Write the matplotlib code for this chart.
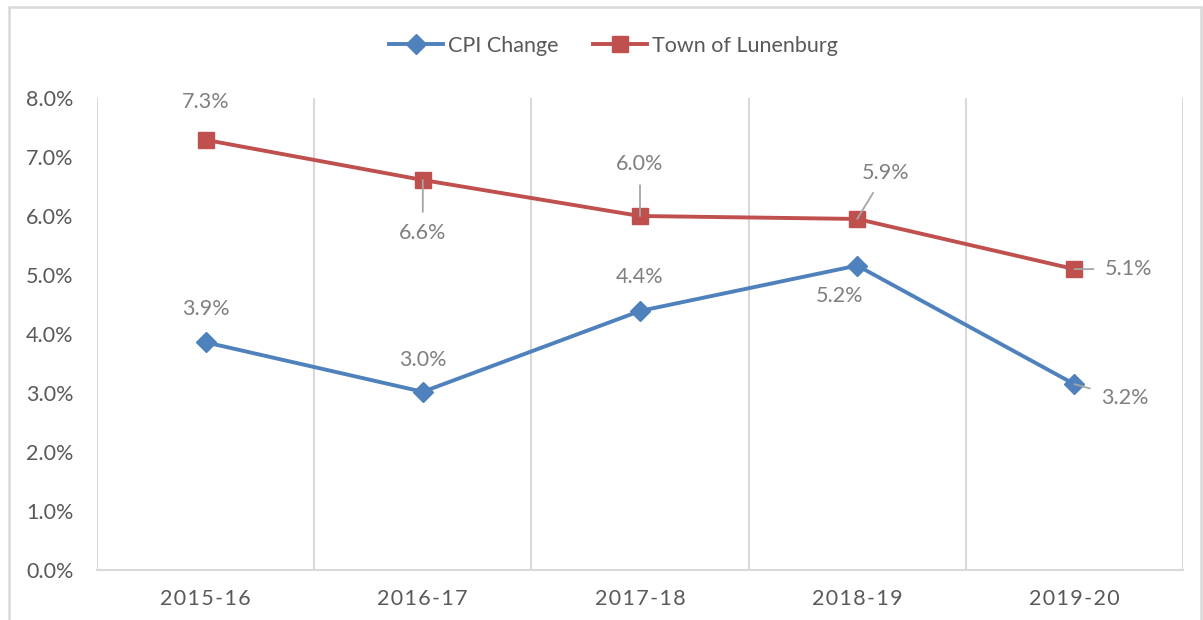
import numpy as np
import matplotlib; matplotlib.use("Agg")
import matplotlib.pyplot as plt
from matplotlib.patches import Rectangle
from matplotlib.ticker import FuncFormatter

plt.rcParams["font.family"] = ["Lato", "DejaVu Sans"]

years = ["2015-16", "2016-17", "2017-18", "2018-19", "2019-20"]
cpi = [3.86, 3.02, 4.39, 5.16, 3.15]
town = [7.29, 6.61, 6.00, 5.95, 5.10]
cpi_lbl = ["3.9%", "3.0%", "4.4%", "5.2%", "3.2%"]
town_lbl = ["7.3%", "6.6%", "6.0%", "5.9%", "5.1%"]

blue, red, grid, txt, lbl = "#4f81bd", "#c0504d", "#d9d9d9", "#595959", "#7f7f7f"
fs = 15.5

fig = plt.figure(figsize=(12.03, 6.2), dpi=100)
ax = fig.add_axes([97/1203, 1-570/620, (1183-97)/1203, (570-98)/620])
x = np.arange(len(years))
ax.plot(x, cpi, color=blue, lw=2.8, marker="D", ms=10, label="CPI Change", zorder=3)
ax.plot(x, town, color=red, lw=2.8, marker="s", ms=12, label="Town of Lunenburg", zorder=3)

ax.set_xlim(-0.5, len(years)-0.5); ax.set_ylim(0, 8)
ax.set_yticks(np.arange(0, 9, 1))
ax.yaxis.set_major_formatter(FuncFormatter(lambda v, p: f"{v:.1f}%"))
ax.set_xticks(x)
ax.set_xticklabels(["\u200a".join(y) for y in years])
ax.tick_params(length=0, labelsize=fs, colors=txt)
ax.tick_params(axis="y", pad=17)
ax.tick_params(axis="x", pad=14)
for xb in np.arange(-0.5, len(years), 1):
    ax.axvline(xb, color=grid, lw=1.5, zorder=1)
for s in ["top", "right", "left"]:
    ax.spines[s].set_visible(False)
ax.spines["bottom"].set_color(grid); ax.spines["bottom"].set_linewidth(1.5)

# label offsets in pixels, and whether a leader line is drawn
cpi_off = [(0, 33, 0), (0, 32, 0), (0, 34, 0), (-18, -30, 0), (50, -14, 1)]
town_off = [(0, 38, 0), (0, -53, 1), (0, 52, 1), (28, 46, 1), (54, 0, 1)]
for vals, labs, offs in [(cpi, cpi_lbl, cpi_off), (town, town_lbl, town_off)]:
    for i, (v, t, (dx, dy, lead)) in enumerate(zip(vals, labs, offs)):
        ap = dict(arrowstyle="-", color="#a6a6a6", lw=1.3, shrinkA=6, shrinkB=0) if lead else None
        ax.annotate(t, (i, v), xytext=(dx, dy), textcoords="offset pixels",
                    ha="center", va="center", fontsize=fs, color=lbl, arrowprops=ap)

fig.legend(loc="center", bbox_to_anchor=(0.51, 1-46/620), ncol=2, frameon=False,
           fontsize=fs, handlelength=2.5, columnspacing=1.6, labelcolor=txt, handletextpad=0.25)
fig.patches.append(Rectangle((9/1203, -0.05), (1201-9)/1203, 1.05-7/620, transform=fig.transFigure,
                             fill=False, edgecolor=grid, lw=1.8))
fig.savefig("out.png", dpi=100)
